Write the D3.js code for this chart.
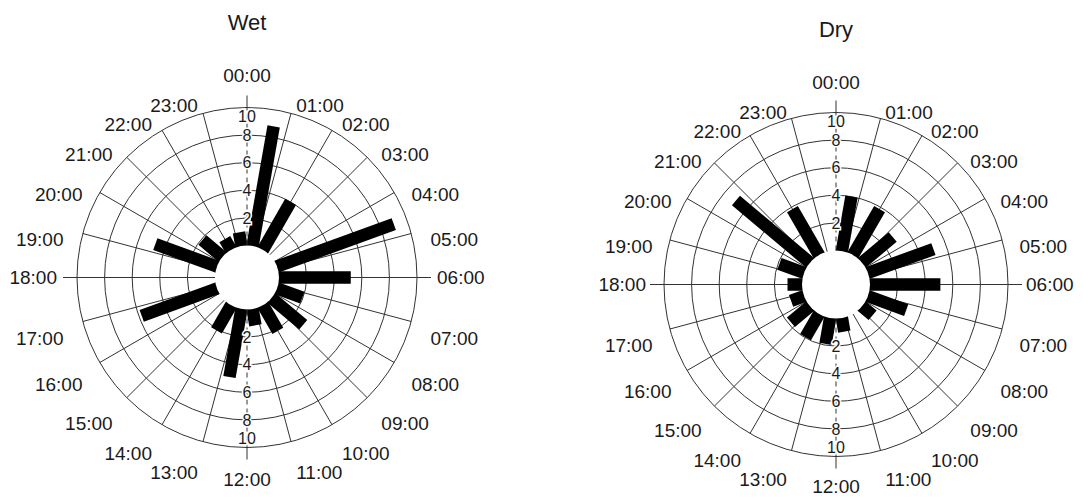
<!DOCTYPE html>
<html>
<head>
<meta charset="utf-8">
<script src="https://cdn.jsdelivr.net/npm/d3@7"></script>
<style>
body { margin: 0; background: #fff; }
text { font-family: "Liberation Sans", Arial, sans-serif; fill: #1a1a1a; }
</style>
</head>
<body>
<svg id="chart" width="1083" height="498"></svg>
<script>
// bins are 20 degrees wide, centres in degrees clockwise from 00:00
var binCentres = [10, 30, 50, 70, 90, 110, 130, 150, 170, 190, 210, 230, 250, 270, 290, 310, 330, 350];
var wetValues = [8.8, 4.0, 0, 9.0, 5.2, 1.95, 3.0, 2.15, 1.2, 5.0, 2.1, 0, 5.8, 0, 4.75, 1.9, 0.9, 1.0];
var dryValues = [4.0, 3.85, 2.9, 5.05, 5.1, 2.95, 1.0, 0, 1.0, 1.9, 1.95, 1.8, 1.0, 1.05, 1.9, 7.0, 3.85, 0];
var hourLabels = ["00:00", "01:00", "02:00", "03:00", "04:00", "05:00", "06:00", "07:00",
    "08:00", "09:00", "10:00", "11:00", "12:00", "13:00", "14:00", "15:00",
    "16:00", "17:00", "18:00", "19:00", "20:00", "21:00", "22:00", "23:00"];
var radialTicks = [2, 4, 6, 8, 10];

var svg = d3.select("#chart");

drawRose({ title: "Wet", cx: 247, cy: 277.5, inner: 32, outer: 170 }, wetValues);
drawRose({ title: "Dry", cx: 836, cy: 284.5, inner: 34, outer: 172 }, dryValues);

function drawRose(opt, values) {
    var gridColor = "#333",
        barWidth = 12.5,
        labelRadius = 190,
        tickOut = 14;

    var r = d3.scaleLinear().domain([0, 10]).range([opt.inner, opt.outer]);
    var hourAngle = d3.scaleLinear().domain([0, 24]).range([0, 2 * Math.PI]);

    var g = svg.append("g")
        .attr("transform", "translate(" + opt.cx + "," + opt.cy + ")");

    // rings
    g.selectAll(".ring")
        .data(radialTicks)
        .enter().append("circle")
        .attr("class", "ring")
        .attr("r", function (d) { return r(d); })
        .attr("fill", "none")
        .attr("stroke", gridColor)
        .attr("stroke-width", 1);

    // hour spokes (axes at 0/6/12/18 drawn separately)
    var hours = d3.range(24);
    g.selectAll(".spoke")
        .data(hours.filter(function (h) { return h % 6 != 0; }))
        .enter().append("line")
        .attr("class", "spoke")
        .attr("x1", function (h) { return r(0) * Math.sin(hourAngle(h)); })
        .attr("y1", function (h) { return -r(0) * Math.cos(hourAngle(h)); })
        .attr("x2", function (h) { return r(10) * Math.sin(hourAngle(h)); })
        .attr("y2", function (h) { return -r(10) * Math.cos(hourAngle(h)); })
        .attr("stroke", gridColor)
        .attr("stroke-width", 1);

    // horizontal axis 06:00 / 18:00
    g.selectAll(".haxis")
        .data([1, -1])
        .enter().append("line")
        .attr("x1", function (s) { return s * r(0); })
        .attr("x2", function (s) { return s * (r(10) + tickOut); })
        .attr("y1", 0).attr("y2", 0)
        .attr("stroke", gridColor)
        .attr("stroke-width", 1);

    // bars
    var bars = values.map(function (v, i) { return { angle: binCentres[i], value: v }; })
        .filter(function (d) { return d.value > 0; });

    g.selectAll(".bar")
        .data(bars)
        .enter().append("rect")
        .attr("class", "bar")
        .attr("x", -barWidth / 2)
        .attr("y", function (d) { return -r(d.value); })
        .attr("width", barWidth)
        .attr("height", function (d) { return r(d.value); })
        .attr("transform", function (d) { return "rotate(" + d.angle + ")"; })
        .attr("fill", "#000");

    // white hole in the middle
    g.append("circle")
        .attr("r", opt.inner)
        .attr("fill", "#fff");

    // vertical axis: dashed inside, solid tick outside
    [-1, 1].forEach(function (s) {
        g.append("line")
            .attr("x1", 0).attr("x2", 0)
            .attr("y1", s * r(0)).attr("y2", s * r(10))
            .attr("stroke", gridColor)
            .attr("stroke-width", 1)
            .attr("stroke-dasharray", "5,4");
        g.append("line")
            .attr("x1", 0).attr("x2", 0)
            .attr("y1", s * r(10)).attr("y2", s * (r(10) + tickOut - 2))
            .attr("stroke", gridColor)
            .attr("stroke-width", 1);

        g.selectAll(".rtick" + (s > 0 ? "b" : "t"))
            .data(radialTicks)
            .enter().append("text")
            .attr("x", 0)
            .attr("y", function (d) { return s * (d == 10 ? r(d) - 9 : r(d)); })
            .attr("dy", "0.35em")
            .attr("text-anchor", "middle")
            .style("font-size", "16px")
            .style("stroke", "#fff")
            .style("stroke-width", "3px")
            .style("paint-order", "stroke")
            .text(function (d) { return d; });
    });

    // hour labels
    g.selectAll(".hour")
        .data(hours)
        .enter().append("text")
        .attr("class", "hour")
        .attr("x", function (h) {
            return h % 12 == 0 ? 0 : labelRadius * Math.sin(hourAngle(h));
        })
        .attr("y", function (h) {
            var c = Math.cos(hourAngle(h));
            if (h % 12 == 0) return -c * (labelRadius + 12);
            if (h % 6 == 0) return 0;
            return -c * labelRadius + 11.5;
        })
        .attr("dy", "0.35em")
        .attr("text-anchor", function (h) {
            if (h % 12 == 0) return "middle";
            return h < 12 ? "start" : "end";
        })
        .style("font-size", "19px")
        .text(function (h) { return hourLabels[h]; });

    // title
    g.append("text")
        .attr("x", 0)
        .attr("y", -248)
        .attr("text-anchor", "middle")
        .style("font-size", "22px")
        .text(opt.title);
}
</script>
</body>
</html>
